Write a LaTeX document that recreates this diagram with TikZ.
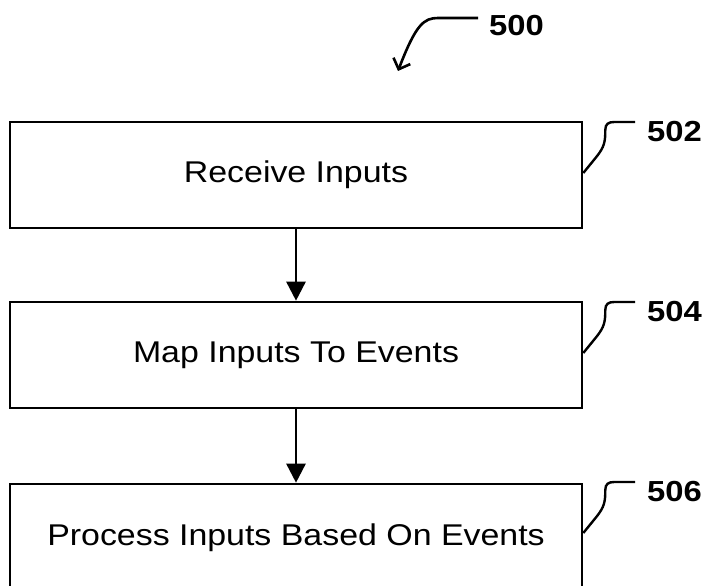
\documentclass[tikz,border=0pt]{standalone}
\usepackage{fontspec}
\usepackage{graphicx}
\setmainfont{Liberation Sans}
\usetikzlibrary{arrows.meta}
\newcommand{\wide}[1]{\scalebox{1.13}[1]{#1}}
\begin{document}
\begin{tikzpicture}[x=1pt,y=-1pt,
  stepbox/.style={draw,line width=2.6pt,minimum width=572pt,minimum height=106pt,font=\fontsize{30}{33}\selectfont,inner sep=0pt},
  conn/.style={line width=2.6pt,-{Triangle[length=19pt,width=19pt]}},
  lead/.style={line width=2.4pt},
  reflabel/.style={font=\bfseries\fontsize{29}{32}\selectfont,inner sep=0pt,anchor=west}]
\useasboundingbox (0,0) rectangle (707,586);
\clip (0,0) rectangle (707,586);
\node[stepbox] (b1) at (296,175) {\wide{Receive Inputs}};
\node[stepbox] (b2) at (296,355) {\wide{Map Inputs To Events}};
\node[stepbox,minimum height=140pt] (b3) at (296,554) {};
\node[font=\fontsize{30}{33}\selectfont,inner sep=0pt] (t3) at (296,538) {\wide{Process Inputs Based On Events}};
\draw[conn] (b1.south) -- (b2.north);
\draw[conn] (b2.south) -- (b3.north);
% 500
\node[reflabel] (l500) at (489,26) {\wide{500}};
\coordinate (s500) at (478,18);
\coordinate (e500) at (398,71);
\draw[line width=2.6pt,-{Straight Barb[length=9pt,width=18pt]}] (s500) -- (438,18) .. controls (424,18) and (416,24) .. (e500);
% leaders
\foreach \b/\n/\yy in {b1/502/132, b2/504/312, b3/506/492}{
  \node[reflabel] (l\n) at (647,\yy) {\wide{\n}};
  \coordinate (c\n) at (635,\yy-10);
  \draw[lead] (\b.east |- 0,\yy+41) -- ++(13,-16) .. controls ++(8,-10) and ++(0,12) .. ++(9,-27) .. controls ++(0,-6) and ++(-6,0) .. ++(9,-8) -- (c\n);
}
\end{tikzpicture}
\end{document}
